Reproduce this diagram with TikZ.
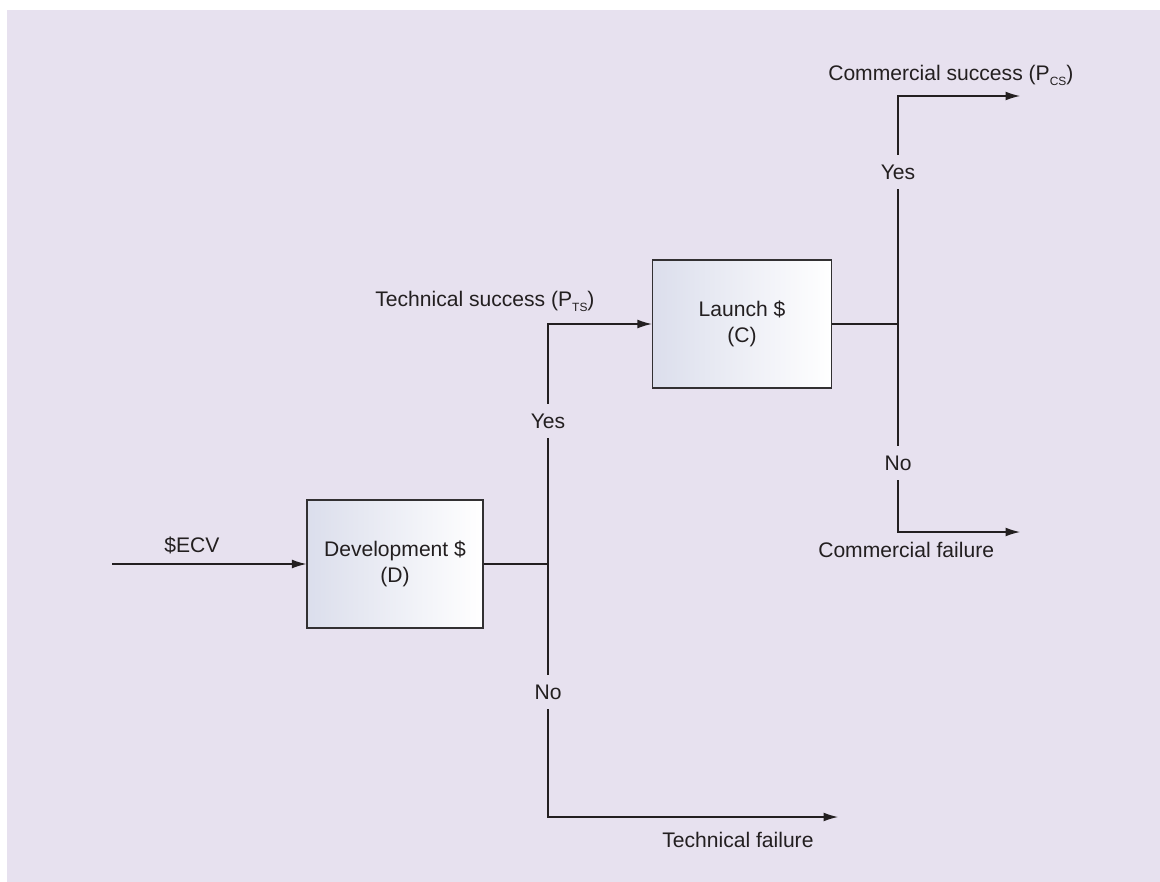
\documentclass[tikz,border=0pt]{standalone}
\usepackage{fontspec}
\setmainfont{Liberation Sans}
\usepackage{xcolor}
\usepackage{tikz}
\usetikzlibrary{arrows.meta, positioning}
\definecolor{bglav}{RGB}{231,225,239}
\definecolor{boxleft}{RGB}{219,222,236}
\definecolor{inkgray}{RGB}{35,31,32}
\definecolor{boxedge}{RGB}{50,48,50}
\newcommand{\lowsub}[1]{\raisebox{-0.45ex}{\fontsize{8.5}{9}\selectfont #1}}
\tikzset{
  stage/.style={rectangle, minimum width=4.4cm, minimum height=3.2cm, align=center,
    draw=boxedge, line width=0.9pt, left color=boxleft, right color=white,
    text=inkgray, font=\fontsize{15}{19}\selectfont},
  answer/.style={text=inkgray, minimum height=0.85cm, inner sep=1pt,
    font=\fontsize{15}{18}\selectfont},
  outcome/.style={text=inkgray, inner sep=0pt, font=\fontsize{15}{18}\selectfont},
  line/.style={line width=0.85pt, color=inkgray},
  arrow/.style={line, -{Latex[length=0.36cm, width=0.22cm]}},
}

\begin{document}
\begin{tikzpicture}[x=0.025cm, y=-0.025cm]
  \useasboundingbox (0,0) rectangle (1160,882);
  \fill[bglav] (7,10) rectangle (1160,882);

  % decision boxes
  \node[stage] (dev) at (395,564) {Development \$\\(D)};
  \node[stage, minimum width=4.475cm] (launch) at (742,324) {Launch \$\\(C)};

  % yes / no labels on the branches
  \node[answer] (yes1) at (548,421) {Yes};
  \node[answer] (no1) at (548,692) {No};
  \node[answer] (yes2) at (898,172) {Yes};
  \node[answer] (no2) at (898,463) {No};

  % branch corners and ends
  \coordinate (ecvin) at (112,564);
  \coordinate (j1) at (548,564);
  \coordinate (up1) at (548,324);
  \coordinate (down1) at (548,817);
  \coordinate (tfend) at (838,817);
  \coordinate (j2) at (898,324);
  \coordinate (up2) at (898,96);
  \coordinate (csend) at (1020,96);
  \coordinate (down2) at (898,532);
  \coordinate (cfend) at (1020,532);

  \draw[arrow] (ecvin) -- (dev);
  \draw[line] (dev) -- (j1);
  \draw[arrow] (j1) -- (yes1) -- (up1) -- (launch);
  \draw[arrow] (j1) -- (no1) -- (down1) -- (tfend);
  \draw[line] (launch) -- (j2);
  \draw[arrow] (j2) -- (yes2) -- (up2) -- (csend);
  \draw[arrow] (j2) -- (no2) -- (down2) -- (cfend);

  % outcome texts
  \node[outcome, anchor=base] (ecv) at (192,552) {\$ECV};
  \node[outcome, anchor=base west] (tsucc) at (375,306) {Technical success (P\lowsub{TS})};
  \node[outcome, anchor=base west] (tfail) at (662,847) {Technical failure};
  \node[outcome, anchor=base west] (csucc) at (828,80) {Commercial success (P\lowsub{CS})};
  \node[outcome, anchor=base west] (cfail) at (818,557) {Commercial failure};
\end{tikzpicture}
\end{document}
